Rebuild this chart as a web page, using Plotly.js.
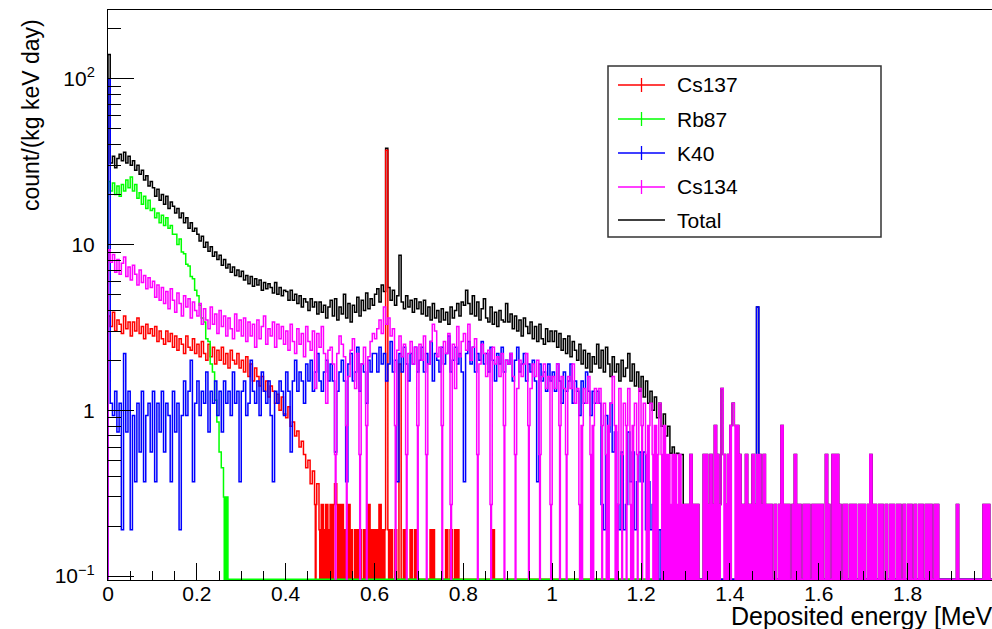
<!DOCTYPE html>
<html>
<head>
<meta charset="utf-8">
<script src="https://cdn.plot.ly/plotly-3.0.1.min.js"></script>
<style>
html,body{margin:0;padding:0;overflow:hidden;background:#fff;}
#chart{width:992px;height:629px;}
</style>
</head>
<body>
<div id="chart"></div>
<script>
// Histogram binning: 400 bins of 5 keV from 0 to 2 MeV
const BIN_WIDTH = 0.005;

// Series values, count/(kg keV day), one value per bin (0 = empty bin)
const total = [
140, 31, 34, 29, 33, 35, 32, 36, 31, 34, 30, 32, 28, 30, 26.5, 28, 24.5, 26, 22.5, 24,
22, 19.5, 21.5, 18.5, 20, 17.5, 19.5, 16.5, 18, 17, 15.5, 16.5, 14.5, 15.5, 13.5, 14.5, 12.5, 13.5, 12, 12.5,
11.5, 10.5, 11.2, 9.6, 10.3, 9.1, 9.7, 8.5, 9, 8.1, 8.6, 7.5, 8.1, 7.2, 7.6, 6.8, 7.3, 6.5, 7, 6.4,
6.9, 6.1, 6.5, 5.8, 6.4, 5.6, 6.2, 5.7, 6.1, 5.3, 5.9, 5.4, 5.8, 5.5, 5.1, 5.9, 5, 5.5, 4.9, 5.3,
5.2, 4.6, 5.3, 4.6, 5, 4.4, 4.9, 4.2, 4.7, 4.5, 4, 4.7, 4.2, 4.5, 3.8, 4.5, 3.9, 4.3, 3.6, 4.2,
4.6, 3.7, 4.7, 3.5, 4.2, 3.8, 5, 3.6, 4.4, 3.4, 4.3, 3.9, 4.8, 3.7, 4.6, 4, 5.1, 4.1, 4.7, 4.3,
5, 5.4, 4.5, 5.7, 5.2, 38, 5.5, 4.6, 5.3, 4.3, 4.9, 8.6, 4.5, 4.1, 4.9, 4.2, 4.6, 3.9, 4.7, 4.1,
4.5, 3.8, 4.6, 3.7, 4.2, 3.5, 4.4, 3.6, 4, 3.4, 4.1, 3.5, 3.9, 3.3, 4.2, 3.6, 4, 4.4, 3.7, 4.5,
4.3, 5.3, 4.4, 3.8, 4.9, 3.7, 4.5, 3.5, 4.1, 4.7, 3.6, 3.4, 4.2, 3.3, 3.9, 3.2, 4, 3.5, 3.4, 4.4,
3.4, 3.8, 3.1, 3.7, 3, 3.5, 2.8, 3.6, 3.2, 2.9, 3.4, 2.7, 3.2, 2.6, 3.3, 2.7, 2.5, 3.1, 2.6, 3,
2.6, 3, 2.4, 2.9, 2.3, 2.7, 2.2, 2.8, 2.1, 2.6, 2.3, 2, 2.5, 1.9, 2.3, 1.8, 2.2, 1.7, 2.1, 1.9,
2.5, 1.8, 2.3, 1.7, 2.4, 1.9, 1.6, 2.1, 1.7, 1.9, 1.5, 2, 1.6, 1.8, 2.2, 1.5, 1.9, 1.4, 1.7, 1.3,
1.6, 1.2, 1.5, 1.1, 1.3, 1, 1.2, 0.9, 1.1, 0.8, 0.95, 0.7, 0.8, 0.55, 0.6, 0.54, 0.55, 0.54, 0.54, 0.27,
0.27, 0.27, 0.54, 0.27, 0.27, 0.27, 0, 0, 0.54, 0.54, 0.27, 0.54, 0.27, 0.81, 0.54, 0.27, 1.35, 0.54, 0.27, 0.54,
0.81, 1.1, 0.81, 0.81, 0.54, 0.27, 0.27, 0.54, 0.27, 0.27, 0.54, 0.27, 4.2, 0.54, 0.27, 0.54, 0.27, 0.27, 0.27, 0,
0.27, 0, 0.27, 0.81, 0.27, 0.27, 0.27, 0, 0.27, 0.54, 0.27, 0.27, 0, 0.27, 0.27, 0.27, 0, 0.27, 0.27, 0.27,
0.27, 0.27, 0, 0.54, 0.27, 0, 0.54, 0.54, 0.54, 0.27, 0, 0.27, 0.27, 0, 0.27, 0.27, 0.27, 0, 0.27, 0.27,
0.27, 0, 0.27, 0.54, 0.27, 0.27, 0, 0.27, 0.27, 0, 0.27, 0, 0.27, 0.27, 0, 0.27, 0.27, 0, 0.27, 0,
0.27, 0.27, 0, 0.27, 0, 0.27, 0.27, 0, 0.27, 0.27, 0.27, 0, 0.27, 0.27, 0, 0, 0, 0, 0, 0,
0, 0, 0.27, 0, 0, 0, 0, 0, 0, 0, 0, 0, 0, 0, 0.27, 0.27, 0.27, 0, 0, 0
];

const cs137 = [
3.7, 3.2, 3.9, 3, 3.5, 3.3, 2.9, 3.7, 3.1, 3.4, 2.8, 3.4, 3, 3.6, 2.9, 3.2, 2.7, 3.3, 2.9, 3.1,
2.8, 3.2, 2.6, 3, 2.7, 2.5, 3, 2.6, 2.9, 2.4, 2.8, 2.3, 2.7, 2.5, 2.2, 2.8, 2.4, 2.3, 2.7, 2.2,
2.5, 2.1, 2.6, 2.2, 2, 2.5, 2.1, 2.4, 1.9, 2.3, 2, 2.4, 1.9, 2.2, 1.8, 2.3, 2, 1.9, 2.2, 1.8,
2, 1.7, 2.1, 1.6, 1.9, 1.5, 1.8, 1.6, 1.4, 1.6, 1.3, 1.5, 1.2, 1.4, 1.3, 1.1, 1.25, 1, 1.2, 0.95,
0.9, 1.05, 0.8, 0.85, 0.7, 0.75, 0.6, 0.65, 0.54, 0.45, 0.5, 0.36, 0.43, 0.27, 0.36, 0.19, 0.27, 0.19, 0.27, 0.19,
0.27, 0.27, 0.36, 0.27, 0.27, 0.27, 0.19, 0.19, 0.27, 0.19, 0, 0.19, 0.19, 0.19, 0, 0.19, 0.19, 0.27, 0.19, 0.19,
0.19, 0.19, 0.27, 0.19, 0.19, 37, 0.19, 0.19, 0, 0.19, 0, 1.9, 0, 0.19, 0, 0, 0.19, 0, 0.19, 0,
0, 0, 0, 0, 0, 0.19, 0.19, 0, 0, 0, 0, 0, 0.19, 0, 0.19, 0, 0.19, 0.19, 0, 0,
0, 0, 0, 0, 0, 0, 0, 0, 0, 0, 0, 0, 0, 0.19, 0, 0, 0, 0, 0, 0,
0, 0, 0, 0, 0, 0, 0, 0, 0, 0, 0, 0, 0, 0, 0, 0, 0, 0, 0, 0,
0, 0, 0, 0, 0, 0, 0, 0, 0, 0, 0, 0, 0, 0, 0, 0, 0, 0, 0, 0,
0, 0, 0, 0, 0, 0, 0, 0, 0, 0, 0, 0, 0, 0, 0, 0, 0, 0, 0, 0,
0, 0, 0, 0, 0, 0, 0, 0, 0, 0, 0, 0, 0, 0, 0, 0, 0, 0, 0, 0,
0, 0, 0, 0, 0, 0, 0, 0, 0, 0, 0, 0, 0, 0, 0, 0, 0, 0, 0, 0,
0, 0, 0, 0, 0, 0, 0, 0, 0, 0, 0, 0, 0, 0, 0, 0, 0, 0, 0, 0,
0, 0, 0, 0, 0, 0, 0, 0, 0, 0, 0, 0, 0, 0, 0, 0, 0, 0, 0, 0,
0, 0, 0, 0, 0, 0, 0, 0, 0, 0, 0, 0, 0, 0, 0, 0, 0, 0, 0, 0,
0, 0, 0, 0, 0, 0, 0, 0, 0, 0, 0, 0, 0, 0, 0, 0, 0, 0, 0, 0,
0, 0, 0, 0, 0, 0, 0, 0, 0, 0, 0, 0, 0, 0, 0, 0, 0, 0, 0, 0,
0, 0, 0, 0, 0, 0, 0, 0, 0, 0, 0, 0, 0, 0, 0, 0, 0, 0, 0, 0
];

const rb87 = [
24, 21, 23.5, 20, 22.5, 19.5, 23, 21, 24.5, 22, 25.5, 21, 23, 19, 20.5, 17.5, 19.5, 16.5, 18.5, 16,
16.5, 14.5, 15.5, 13.5, 15, 13, 14.5, 12.5, 13, 11.5, 11.5, 10, 10.8, 9, 8.8, 7.6, 7.4, 6.4, 6.2, 5.3,
4.9, 4.3, 3.6, 3.4, 2.7, 2.6, 1.9, 1.7, 1.15, 0.85, 0.56, 0.45, 0.3, 0.3, 0, 0, 0, 0, 0, 0,
0, 0, 0, 0, 0, 0, 0, 0, 0, 0, 0, 0, 0, 0, 0, 0, 0, 0, 0, 0,
0, 0, 0, 0, 0, 0, 0, 0, 0, 0, 0, 0, 0, 0, 0, 0, 0, 0, 0, 0,
0, 0, 0, 0, 0, 0, 0, 0, 0, 0, 0, 0, 0, 0, 0, 0, 0, 0, 0, 0,
0, 0, 0, 0, 0, 0, 0, 0, 0, 0, 0, 0, 0, 0, 0, 0, 0, 0, 0, 0,
0, 0, 0, 0, 0, 0, 0, 0, 0, 0, 0, 0, 0, 0, 0, 0, 0, 0, 0, 0,
0, 0, 0, 0, 0, 0, 0, 0, 0, 0, 0, 0, 0, 0, 0, 0, 0, 0, 0, 0,
0, 0, 0, 0, 0, 0, 0, 0, 0, 0, 0, 0, 0, 0, 0, 0, 0, 0, 0, 0,
0, 0, 0, 0, 0, 0, 0, 0, 0, 0, 0, 0, 0, 0, 0, 0, 0, 0, 0, 0,
0, 0, 0, 0, 0, 0, 0, 0, 0, 0, 0, 0, 0, 0, 0, 0, 0, 0, 0, 0,
0, 0, 0, 0, 0, 0, 0, 0, 0, 0, 0, 0, 0, 0, 0, 0, 0, 0, 0, 0,
0, 0, 0, 0, 0, 0, 0, 0, 0, 0, 0, 0, 0, 0, 0, 0, 0, 0, 0, 0,
0, 0, 0, 0, 0, 0, 0, 0, 0, 0, 0, 0, 0, 0, 0, 0, 0, 0, 0, 0,
0, 0, 0, 0, 0, 0, 0, 0, 0, 0, 0, 0, 0, 0, 0, 0, 0, 0, 0, 0,
0, 0, 0, 0, 0, 0, 0, 0, 0, 0, 0, 0, 0, 0, 0, 0, 0, 0, 0, 0,
0, 0, 0, 0, 0, 0, 0, 0, 0, 0, 0, 0, 0, 0, 0, 0, 0, 0, 0, 0,
0, 0, 0, 0, 0, 0, 0, 0, 0, 0, 0, 0, 0, 0, 0, 0, 0, 0, 0, 0,
0, 0, 0, 0, 0, 0, 0, 0, 0, 0, 0, 0, 0, 0, 0, 0, 0, 0, 0, 0
];

const k40 = [
100, 1.1, 0.93, 1.3, 0.74, 1.1, 0.19, 2.2, 0.74, 1.3, 0.19, 0.93, 0.37, 1.1, 0.56, 1.3, 0.37, 0.93, 1.1, 0.56,
1.3, 0.37, 1.1, 0.74, 1.3, 0.56, 1.1, 0.93, 0.37, 1.3, 0.74, 1.1, 0.19, 0.93, 1.5, 0.93, 1.3, 2.0, 0.37, 1.1,
1.5, 0.93, 1.3, 1.1, 1.7, 0.74, 1.3, 1.1, 1.5, 0.93, 1.3, 0.74, 1.5, 1.1, 1.3, 0.93, 1.7, 1.1, 1.3, 0.37,
1.3, 1.5, 0.93, 1.1, 2.0, 1.3, 1.1, 1.5, 0.93, 1.7, 1.3, 1.1, 1.5, 0.93, 0.37, 1.3, 1.1, 1.5, 1.3, 0.93,
1.7, 1.3, 0.56, 1.5, 2.0, 1.3, 1.7, 1.5, 1.1, 1.9, 1.5, 2.0, 1.3, 1.7, 2.2, 1.5, 1.3, 1.7, 2.0, 1.5,
1.9, 1.5, 0.56, 1.3, 1.7, 2.0, 1.5, 0.37, 1.9, 2.2, 1.5, 1.7, 2.4, 1.3, 1.9, 1.7, 1.1, 2.0, 1.7, 2.2,
2.2, 1.7, 2.4, 1.9, 2.2, 1.5, 1.9, 2.6, 1.7, 2.0, 0.37, 2.2, 1.7, 2.4, 1.9, 1.5, 2.2, 1.9, 2.4, 1.7,
2.0, 2.4, 1.7, 2.2, 1.9, 2.6, 1.5, 2.2, 2.0, 1.7, 2.4, 1.9, 2.2, 2.8, 1.7, 2.0, 2.4, 1.9, 2.2, 1.7,
0.37, 2.2, 2.6, 1.9, 2.4, 1.7, 2.2, 2.0, 2.6, 1.9, 2.2, 1.7, 2.4, 2.0, 1.5, 2.2, 1.9, 2.4, 1.7, 2.0,
1.9, 2.2, 1.5, 2.0, 2.4, 1.7, 1.9, 2.2, 1.5, 1.9, 1.7, 2.0, 1.5, 0.37, 1.9, 1.5, 1.7, 1.3, 1.9, 1.5,
1.7, 1.3, 1.9, 1.5, 1.1, 1.7, 1.3, 1.5, 1.9, 1.1, 1.5, 1.3, 0.93, 1.5, 1.1, 1.7, 1.3, 0.93, 1.3, 1.1,
1.3, 1.1, 0.27, 0.19, 0.93, 0.74, 1.1, 0.56, 0.74, 0.27, 0.19, 0.56, 0.19, 0.27, 0.74, 0.37, 0.56, 0.19, 0.37, 0.56,
0.37, 0.56, 0.19, 0.37, 0.19, 0.27, 0.37, 0, 0.19, 0, 0.19, 0, 0, 0.19, 0, 0, 0, 0, 0, 0,
0, 0, 0, 0, 0, 0, 0, 0, 0, 0, 0, 0, 0, 0, 0, 0, 0, 0, 0, 0,
0, 0, 0, 0, 0, 0, 0, 0, 0, 0, 0, 0, 4.2, 0, 0, 0, 0, 0, 0, 0,
0, 0, 0, 0, 0, 0, 0, 0, 0, 0, 0, 0, 0, 0, 0, 0, 0, 0, 0, 0,
0, 0, 0, 0, 0, 0, 0, 0, 0, 0, 0, 0, 0, 0, 0, 0, 0, 0, 0, 0,
0, 0, 0, 0, 0, 0, 0, 0, 0, 0, 0, 0, 0, 0, 0, 0, 0, 0, 0, 0,
0, 0, 0, 0, 0, 0, 0, 0, 0, 0, 0, 0, 0, 0, 0, 0, 0, 0, 0, 0,
0, 0, 0, 0, 0, 0, 0, 0, 0, 0, 0, 0, 0, 0, 0, 0, 0, 0, 0, 0
];

const cs134 = [
9.3, 7.8, 8.7, 6.8, 8.1, 6.6, 7.7, 8.4, 6.4, 7.3, 6.1, 7.5, 6.6, 5.7, 7, 5.9, 6.5, 5.4, 6.3, 5.5,
6, 4.8, 5.7, 4.6, 5.5, 4.4, 5.2, 4.1, 5.4, 4.6, 3.9, 5.1, 4.4, 3.7, 4.9, 4.2, 4.7, 3.6, 4.5, 4,
3.7, 4.4, 3.3, 4.1, 3.5, 3.1, 4.2, 3.3, 3.8, 2.9, 4, 3.2, 3.7, 2.8, 3.6, 3.1, 2.7, 3.8, 3, 3.5,
2.8, 3.6, 2.6, 3.4, 2.8, 3.3, 2.4, 3.5, 2.7, 3.2, 3.7, 2.5, 3.1, 2.8, 3.4, 2.4, 3.3, 2.7, 3.2, 2.5,
3, 2.3, 3.3, 2.6, 2.2, 3.1, 2.5, 2.9, 2.1, 3.2, 2.6, 2.3, 3, 1.35, 2.9, 2.4, 3.2, 2.2, 1.1, 2.3,
2.4, 1.9, 0.54, 2.2, 2.8, 2.5, 2.1, 0.81, 1.6, 2.3, 2.7, 1.35, 2.2, 0.54, 1.9, 2.4, 0.81, 2.1, 2.6, 2.9,
2.7, 3.1, 3.5, 2.9, 4.2, 3.3, 3.6, 2.8, 3.1, 0.81, 2.3, 2.8, 2.1, 2.5, 0.54, 2.2, 2.6, 1.9, 2.4, 0.81,
2.5, 2.0, 2.8, 0.54, 1.9, 2.6, 3.3, 3.0, 2.1, 2.4, 0.81, 2.6, 2.2, 2.9, 0.27, 2.5, 1.35, 3.2, 2.1, 2.6,
2.9, 2.3, 3.3, 2.0, 2.4, 2.7, 0.54, 1.9, 2.5, 2.2, 1.6, 2.3, 0.27, 2.4, 1.9, 2.1, 1.6, 2.2, 0.81, 2.0,
1.9, 2.2, 1.6, 0.54, 1.35, 2.0, 1.6, 1.9, 2.2, 0.81, 1.35, 1.9, 1.6, 2.0, 0.54, 1.6, 1.9, 1.35, 1.6, 0.27,
1.6, 1.35, 1.9, 0.81, 1.6, 1.35, 0.54, 1.6, 1.35, 1.9, 1.1, 1.35, 0.27, 0.81, 1.35, 1.1, 1.6, 0.54, 0.81, 1.35,
1.1, 1.35, 0.81, 1.1, 0.54, 0.81, 1.1, 1.6, 0.81, 0.27, 1.35, 0.54, 1.1, 0.81, 1.35, 0.27, 0.81, 1.1, 0.54, 1.35,
0.81, 1.1, 0.54, 0.81, 1.1, 0.54, 0.81, 0.54, 1.1, 0.54, 0.81, 0.54, 0.54, 0.27, 0.54, 0.54, 0.27, 0.54, 0.27, 0.27,
0.27, 0.27, 0.54, 0.27, 0.27, 0.27, 0, 0, 0.54, 0.54, 0.27, 0.54, 0.27, 0.81, 0.54, 0.27, 1.35, 0.54, 0.27, 0.54,
0.81, 1.1, 0.81, 0.81, 0.54, 0.27, 0.27, 0.54, 0.27, 0.27, 0.54, 0.27, 0.54, 0.54, 0.27, 0.54, 0.27, 0.27, 0.27, 0,
0.27, 0, 0.27, 0.81, 0.27, 0.27, 0.27, 0, 0.27, 0.54, 0.27, 0.27, 0, 0.27, 0.27, 0.27, 0, 0.27, 0.27, 0.27,
0.27, 0.27, 0, 0.54, 0.27, 0, 0.54, 0.54, 0.54, 0.27, 0, 0.27, 0.27, 0, 0.27, 0.27, 0.27, 0, 0.27, 0.27,
0.27, 0, 0.27, 0.54, 0.27, 0.27, 0, 0.27, 0.27, 0, 0.27, 0, 0.27, 0.27, 0, 0.27, 0.27, 0, 0.27, 0,
0.27, 0.27, 0, 0.27, 0, 0.27, 0.27, 0, 0.27, 0.27, 0.27, 0, 0.27, 0.27, 0, 0, 0, 0, 0, 0,
0, 0, 0.27, 0, 0, 0, 0, 0, 0, 0, 0, 0, 0, 0, 0.27, 0.27, 0.27, 0, 0, 0
];

// Legend / series styling
const seriesLabels = ['Cs137', 'Rb87', 'K40', 'Cs134', 'Total'];
const seriesColors = ['#ff0000', '#00ff00', '#0000ff', '#ff00ff', '#000000'];
const legendCross  = [true, true, true, true, false];
// Single-count level below which sparse fine-binned regions appear solid
const sparseLevel  = {Cs137: 0.27, Rb87: 0.3, Cs134: 0.85};

const Y_RANGE = [-1.024, 2.414];
const FLOOR = Math.pow(10, Y_RANGE[0] + 0.004);   // empty bins drawn at the frame bottom
const FILL_BASE = 0.05;

function stepPath(vals) {
  const x = [0], y = [FLOOR];
  for (let i = 0; i < vals.length; i++) {
    const v = vals[i] > 0 ? vals[i] : FLOOR;
    x.push(i * BIN_WIDTH, (i + 1) * BIN_WIDTH);
    y.push(v, v);
  }
  x.push(vals.length * BIN_WIDTH); y.push(FLOOR);
  return {x, y};
}
function sparseBlocks(vals, thr) {
  const x = [], y = [];
  let i = 0;
  while (i < vals.length) {
    if (vals[i] > 0 && vals[i] <= thr) {
      x.push(i * BIN_WIDTH); y.push(FILL_BASE);
      while (i < vals.length && vals[i] > 0 && vals[i] <= thr) {
        x.push(i * BIN_WIDTH, (i + 1) * BIN_WIDTH); y.push(vals[i], vals[i]); i++;
      }
      x.push(i * BIN_WIDTH); y.push(FILL_BASE);
      x.push(null); y.push(null);
    } else i++;
  }
  return {x, y};
}

const dataByName = {Total: total, Cs137: cs137, Rb87: rb87, K40: k40, Cs134: cs134};
const drawOrder = ['Total', 'Cs137', 'Rb87', 'K40', 'Cs134'];
const traces = [];
drawOrder.forEach(name => {
  const color = seriesColors[seriesLabels.indexOf(name)];
  const vals = dataByName[name];
  if (sparseLevel[name]) {
    const b = sparseBlocks(vals, sparseLevel[name]);
    traces.push({x: b.x, y: b.y, type: 'scatter', mode: 'lines', fill: 'toself',
      fillcolor: color, line: {width: 0, color: color}, hoverinfo: 'skip', showlegend: false, name: name});
  }
  const s = stepPath(vals);
  traces.push({x: s.x, y: s.y, type: 'scatter', mode: 'lines', name: name,
    line: {color: color, width: 1.5, simplify: false}, hoverinfo: 'skip', showlegend: false});
});

// minor log ticks 2..9 per decade
const minorY = [];
[0.1, 1, 10, 100].forEach(d => { for (let k = 2; k <= 9; k++) minorY.push(d * k); });

// pixel -> paper helpers for legend/title placement
const ML = 108, MT = 10, PW = 884, PH = 570;
const px2x = px => (px - ML) / PW;
const py2y = py => (MT + PH - py) / PH;

const shapes = [];
const annotations = [];
shapes.push({type: 'rect', xref: 'paper', yref: 'paper', x0: px2x(608), x1: px2x(881),
  y0: py2y(237), y1: py2y(66), line: {color: '#333', width: 1.5}, fillcolor: '#fff', layer: 'above'});
const rowY = [85, 119, 153, 187, 220];
seriesLabels.forEach((lab, i) => {
  const yy = py2y(rowY[i]);
  shapes.push({type: 'line', xref: 'paper', yref: 'paper', x0: px2x(618), x1: px2x(665), y0: yy, y1: yy,
    line: {color: seriesColors[i], width: 1.3}, layer: 'above'});
  if (legendCross[i]) {
    shapes.push({type: 'line', xref: 'paper', yref: 'paper', x0: px2x(641.5), x1: px2x(641.5),
      y0: py2y(rowY[i] + 7), y1: py2y(rowY[i] - 7), line: {color: seriesColors[i], width: 1.3}, layer: 'above'});
  }
  annotations.push({text: lab, xref: 'paper', yref: 'paper', x: px2x(676), y: yy, xanchor: 'left', yanchor: 'middle',
    showarrow: false, font: {size: 21, color: '#000'}, borderpad: 0});
});
annotations.push({text: 'Deposited energy [MeV]', xref: 'paper', yref: 'paper', x: px2x(1000), y: py2y(616),
  xanchor: 'right', yanchor: 'middle', showarrow: false, font: {size: 25, color: '#000'}, borderpad: 0});
annotations.push({text: 'count/(kg keV day)', xref: 'paper', yref: 'paper', x: px2x(31), y: py2y(115),
  xanchor: 'center', yanchor: 'middle', textangle: -90, showarrow: false, font: {size: 23, color: '#000'}, borderpad: 0});

const layout = {
  width: 992, height: 629,
  margin: {l: ML, r: 0, t: MT, b: 629 - MT - PH, pad: 0},
  paper_bgcolor: '#fff', plot_bgcolor: '#fff',
  showlegend: false,
  font: {family: '"Liberation Sans", Arial, Helvetica, sans-serif', color: '#000', size: 21},
  xaxis: {
    range: [0, PW / 444.2], showline: true, mirror: true, linecolor: '#000', linewidth: 1,
    ticks: 'inside', ticklen: 17, tickwidth: 1, tickcolor: '#000', tick0: 0, dtick: 0.2,
    minor: {ticks: 'inside', ticklen: 9, tick0: 0, dtick: 0.05, tickcolor: '#000', tickwidth: 1},
    showgrid: false, zeroline: false, tickfont: {size: 21}, ticklabelstandoff: -5
  },
  yaxis: {
    type: 'log', range: Y_RANGE, showline: true, linecolor: '#000', linewidth: 1,
    ticks: 'inside', ticklen: 26, tickwidth: 1, tickcolor: '#000',
    tickmode: 'array', tickvals: [0.1, 1, 10, 100],
    ticktext: ['10<sup>\u22121</sup>', '1', '10', '10<sup>2</sup>'],
    minor: {ticks: 'inside', ticklen: 13, tickmode: 'array', tickvals: minorY, tickcolor: '#000', tickwidth: 1},
    showgrid: false, zeroline: false, tickfont: {size: 21}, ticklabelstandoff: 8
  },
  shapes: shapes,
  annotations: annotations
};

Plotly.newPlot('chart', traces, layout, {displayModeBar: false, staticPlot: true});
</script>
</body>
</html>
